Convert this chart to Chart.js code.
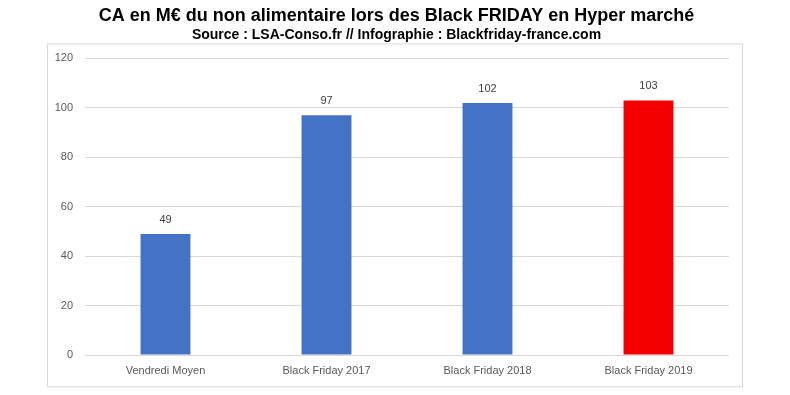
<!DOCTYPE html>
<html>
<head>
<meta charset="utf-8">
<script src="https://cdn.jsdelivr.net/npm/chart.js@4"></script>
<style>
  html, body { margin: 0; padding: 0; background: #fff; }
  #wrap { width: 790px; height: 395px; }
</style>
</head>
<body>
<div id="wrap"><canvas id="caChart" width="790" height="395"></canvas></div>
<script>
const labels = ['Vendredi Moyen', 'Black Friday 2017', 'Black Friday 2018', 'Black Friday 2019'];
const caValues = [49, 97, 102, 103];
const yTicks = [0, 20, 40, 60, 80, 100, 120];

const barColors = ['#4472c4', '#4472c4', '#4472c4', '#f50000'];

// cadre gris autour du graphique
const framePlugin = {
    id: 'frame',
    afterLayout(chart) {
        // élargir la zone de l'axe Y pour ne pas couper les libellés
        chart.scales.y.left = chart.chartArea.left - 38;
    },
    beforeDraw(chart) {
        const a = chart.chartArea;
        const c = chart.ctx;
        c.save();
        c.strokeStyle = '#d9d9d9';
        c.lineWidth = 1;
        c.strokeRect(a.left - 38 + 0.5, a.top - 15 + 0.5, 695, 343);
        c.restore();
    }
};

// valeurs au-dessus des barres
const valueLabels = {
    id: 'valueLabels',
    afterDatasetsDraw(chart) {
        const c = chart.ctx;
        const meta = chart.getDatasetMeta(0);
        c.save();
        c.font = '11px "Liberation Sans", Arial, sans-serif';
        c.fillStyle = '#404040';
        c.textAlign = 'center';
        c.textBaseline = 'middle';
        meta.data.forEach(function (bar, i) {
            c.fillText(String(caValues[i]), bar.x, bar.y - 14);
        });
        c.restore();
    }
};

const ctx = document.getElementById('caChart').getContext('2d');
const caChart = new Chart(ctx, {
    type: 'bar',
    data: {
        labels: labels,
        datasets: [{
            data: caValues,
            backgroundColor: barColors,
            borderWidth: 0,
            categoryPercentage: 1,
            barPercentage: 0.31
        }]
    },
    options: {
        responsive: false,
        animation: false,
        layout: {
            // gauche/droite choisis pour centrer le titre vers x=396
            padding: { left: 64, right: 61, top: 0, bottom: 9 }
        },
        plugins: {
            legend: { display: false },
            tooltip: { enabled: false },
            title: {
                display: true,
                text: 'CA en M€ du non alimentaire lors des Black FRIDAY en Hyper marché',
                color: '#000',
                font: { family: '"Liberation Sans", Arial, sans-serif', size: 18, weight: 'bold' },
                padding: { top: 5, bottom: 0 }
            },
            subtitle: {
                display: true,
                text: 'Source : LSA-Conso.fr // Infographie : Blackfriday-france.com',
                color: '#000',
                font: { family: '"Liberation Sans", Arial, sans-serif', size: 14, weight: 'bold' },
                padding: { top: 0, bottom: 15 }
            }
        },
        scales: {
            x: {
                grid: { display: false },
                border: { display: false },
                ticks: {
                    color: '#595959',
                    font: { family: '"Liberation Sans", Arial, sans-serif', size: 11 },
                    padding: 1,
                    maxRotation: 0
                },
                afterFit(scale) { scale.height = 31; }
            },
            y: {
                min: 0,
                max: 120,
                afterBuildTicks(scale) {
                    scale.ticks = yTicks.map(v => ({ value: v }));
                },
                grid: { color: '#d9d9d9', drawTicks: false },
                border: { display: false },
                ticks: {
                    color: '#595959',
                    font: { family: '"Liberation Sans", Arial, sans-serif', size: 11 },
                    padding: 12
                },
                afterFit(scale) { scale.width = 21; }
            }
        }
    },
    plugins: [framePlugin, valueLabels]
});
</script>
</body>
</html>
